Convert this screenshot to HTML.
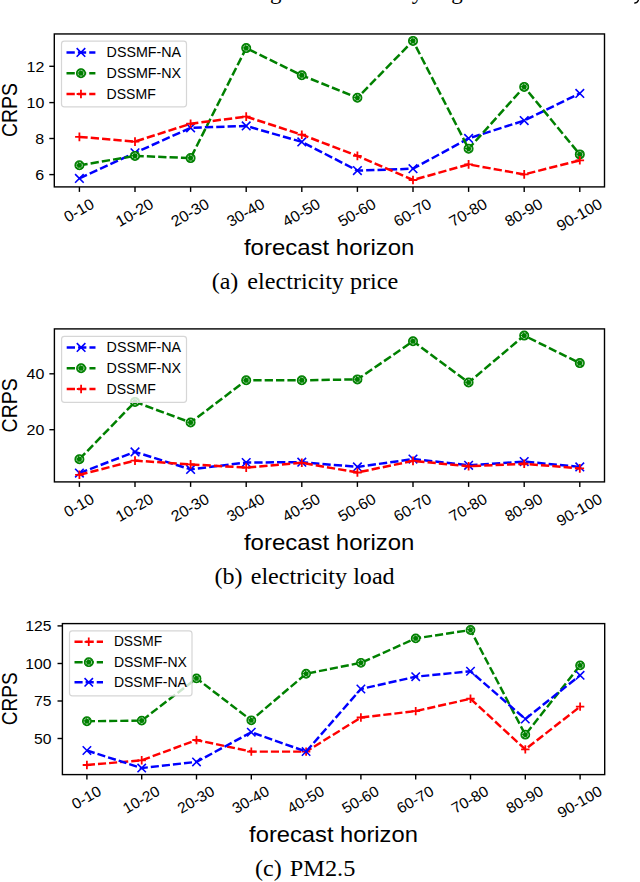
<!DOCTYPE html>
<html><head><meta charset="utf-8"><style>
html,body{margin:0;padding:0;background:#fff;width:640px;height:882px;overflow:hidden;}
svg{display:block;}
</style></head><body>
<svg width="640" height="882" viewBox="0 0 640 882">
<rect x="0" y="0" width="640" height="882" fill="#fff"/>
<polyline points="79.40,178.40 135.00,152.80 190.60,127.80 246.20,125.90 301.80,141.90 357.40,170.60 413.00,168.70 468.60,138.40 524.20,120.60 579.80,93.40" fill="none" stroke="#0000ff" stroke-width="2.50" stroke-dasharray="8.30 3.07" stroke-linecap="butt" stroke-linejoin="round"/>
<path d="M75.10,174.10L83.70,182.70M75.10,182.70L83.70,174.10" stroke="#0000ff" stroke-width="1.60" fill="none"/>
<path d="M130.70,148.50L139.30,157.10M130.70,157.10L139.30,148.50" stroke="#0000ff" stroke-width="1.60" fill="none"/>
<path d="M186.30,123.50L194.90,132.10M186.30,132.10L194.90,123.50" stroke="#0000ff" stroke-width="1.60" fill="none"/>
<path d="M241.90,121.60L250.50,130.20M241.90,130.20L250.50,121.60" stroke="#0000ff" stroke-width="1.60" fill="none"/>
<path d="M297.50,137.60L306.10,146.20M297.50,146.20L306.10,137.60" stroke="#0000ff" stroke-width="1.60" fill="none"/>
<path d="M353.10,166.30L361.70,174.90M353.10,174.90L361.70,166.30" stroke="#0000ff" stroke-width="1.60" fill="none"/>
<path d="M408.70,164.40L417.30,173.00M408.70,173.00L417.30,164.40" stroke="#0000ff" stroke-width="1.60" fill="none"/>
<path d="M464.30,134.10L472.90,142.70M464.30,142.70L472.90,134.10" stroke="#0000ff" stroke-width="1.60" fill="none"/>
<path d="M519.90,116.30L528.50,124.90M519.90,124.90L528.50,116.30" stroke="#0000ff" stroke-width="1.60" fill="none"/>
<path d="M575.50,89.10L584.10,97.70M575.50,97.70L584.10,89.10" stroke="#0000ff" stroke-width="1.60" fill="none"/>
<polyline points="79.40,165.30 135.00,155.90 190.60,158.10 246.20,48.10 301.80,75.30 357.40,97.80 413.00,40.90 468.60,148.75 524.20,86.90 579.80,154.40" fill="none" stroke="#008000" stroke-width="2.50" stroke-dasharray="8.30 3.07" stroke-linecap="butt" stroke-linejoin="round"/>
<circle cx="79.40" cy="165.30" r="4.40" fill="#008000" stroke="#008000" stroke-width="1.20"/>
<circle cx="79.40" cy="165.30" r="2.90" fill="none" stroke="#bfe0bf" stroke-width="1.00" stroke-dasharray="2.2 1.0"/>
<circle cx="135.00" cy="155.90" r="4.40" fill="#008000" stroke="#008000" stroke-width="1.20"/>
<circle cx="135.00" cy="155.90" r="2.90" fill="none" stroke="#bfe0bf" stroke-width="1.00" stroke-dasharray="2.2 1.0"/>
<circle cx="190.60" cy="158.10" r="4.40" fill="#008000" stroke="#008000" stroke-width="1.20"/>
<circle cx="190.60" cy="158.10" r="2.90" fill="none" stroke="#bfe0bf" stroke-width="1.00" stroke-dasharray="2.2 1.0"/>
<circle cx="246.20" cy="48.10" r="4.40" fill="#008000" stroke="#008000" stroke-width="1.20"/>
<circle cx="246.20" cy="48.10" r="2.90" fill="none" stroke="#bfe0bf" stroke-width="1.00" stroke-dasharray="2.2 1.0"/>
<circle cx="301.80" cy="75.30" r="4.40" fill="#008000" stroke="#008000" stroke-width="1.20"/>
<circle cx="301.80" cy="75.30" r="2.90" fill="none" stroke="#bfe0bf" stroke-width="1.00" stroke-dasharray="2.2 1.0"/>
<circle cx="357.40" cy="97.80" r="4.40" fill="#008000" stroke="#008000" stroke-width="1.20"/>
<circle cx="357.40" cy="97.80" r="2.90" fill="none" stroke="#bfe0bf" stroke-width="1.00" stroke-dasharray="2.2 1.0"/>
<circle cx="413.00" cy="40.90" r="4.40" fill="#008000" stroke="#008000" stroke-width="1.20"/>
<circle cx="413.00" cy="40.90" r="2.90" fill="none" stroke="#bfe0bf" stroke-width="1.00" stroke-dasharray="2.2 1.0"/>
<circle cx="468.60" cy="148.75" r="4.40" fill="#008000" stroke="#008000" stroke-width="1.20"/>
<circle cx="468.60" cy="148.75" r="2.90" fill="none" stroke="#bfe0bf" stroke-width="1.00" stroke-dasharray="2.2 1.0"/>
<circle cx="524.20" cy="86.90" r="4.40" fill="#008000" stroke="#008000" stroke-width="1.20"/>
<circle cx="524.20" cy="86.90" r="2.90" fill="none" stroke="#bfe0bf" stroke-width="1.00" stroke-dasharray="2.2 1.0"/>
<circle cx="579.80" cy="154.40" r="4.40" fill="#008000" stroke="#008000" stroke-width="1.20"/>
<circle cx="579.80" cy="154.40" r="2.90" fill="none" stroke="#bfe0bf" stroke-width="1.00" stroke-dasharray="2.2 1.0"/>
<polyline points="79.40,136.90 135.00,141.60 190.60,123.75 246.20,116.60 301.80,134.70 357.40,155.90 413.00,180.00 468.60,164.40 524.20,174.40 579.80,160.30" fill="none" stroke="#ff0000" stroke-width="2.50" stroke-dasharray="8.30 3.07" stroke-linecap="butt" stroke-linejoin="round"/>
<path d="M75.10,136.90L83.70,136.90M79.40,132.60L79.40,141.20" stroke="#ff0000" stroke-width="1.80" fill="none"/>
<path d="M130.70,141.60L139.30,141.60M135.00,137.30L135.00,145.90" stroke="#ff0000" stroke-width="1.80" fill="none"/>
<path d="M186.30,123.75L194.90,123.75M190.60,119.45L190.60,128.05" stroke="#ff0000" stroke-width="1.80" fill="none"/>
<path d="M241.90,116.60L250.50,116.60M246.20,112.30L246.20,120.90" stroke="#ff0000" stroke-width="1.80" fill="none"/>
<path d="M297.50,134.70L306.10,134.70M301.80,130.40L301.80,139.00" stroke="#ff0000" stroke-width="1.80" fill="none"/>
<path d="M353.10,155.90L361.70,155.90M357.40,151.60L357.40,160.20" stroke="#ff0000" stroke-width="1.80" fill="none"/>
<path d="M408.70,180.00L417.30,180.00M413.00,175.70L413.00,184.30" stroke="#ff0000" stroke-width="1.80" fill="none"/>
<path d="M464.30,164.40L472.90,164.40M468.60,160.10L468.60,168.70" stroke="#ff0000" stroke-width="1.80" fill="none"/>
<path d="M519.90,174.40L528.50,174.40M524.20,170.10L524.20,178.70" stroke="#ff0000" stroke-width="1.80" fill="none"/>
<path d="M575.50,160.30L584.10,160.30M579.80,156.00L579.80,164.60" stroke="#ff0000" stroke-width="1.80" fill="none"/>
<rect x="61.50" y="41.20" width="125.00" height="65.70" rx="2.8" ry="2.8" fill="rgba(255,255,255,0.8)" stroke="#d6d6d6" stroke-width="1.2"/>
<line x1="66.50" y1="52.40" x2="95.40" y2="52.40" stroke="#0000ff" stroke-width="2.50" stroke-dasharray="8.30 3.07"/>
<path d="M76.65,48.10L85.25,56.70M76.65,56.70L85.25,48.10" stroke="#0000ff" stroke-width="1.60" fill="none"/>
<text x="106.60" y="57.10" font-size="14.84" text-anchor="start" font-family='"Liberation Sans", sans-serif' textLength="74.52" lengthAdjust="spacingAndGlyphs" >DSSMF-NA</text>
<line x1="66.50" y1="73.20" x2="95.40" y2="73.20" stroke="#008000" stroke-width="2.50" stroke-dasharray="8.30 3.07"/>
<circle cx="80.95" cy="73.20" r="4.40" fill="#008000" stroke="#008000" stroke-width="1.20"/>
<circle cx="80.95" cy="73.20" r="2.90" fill="none" stroke="#bfe0bf" stroke-width="1.00" stroke-dasharray="2.2 1.0"/>
<text x="106.60" y="77.90" font-size="14.84" text-anchor="start" font-family='"Liberation Sans", sans-serif' textLength="74.54" lengthAdjust="spacingAndGlyphs" >DSSMF-NX</text>
<line x1="66.50" y1="94.00" x2="95.40" y2="94.00" stroke="#ff0000" stroke-width="2.50" stroke-dasharray="8.30 3.07"/>
<path d="M76.65,94.00L85.25,94.00M80.95,89.70L80.95,98.30" stroke="#ff0000" stroke-width="1.80" fill="none"/>
<text x="106.60" y="98.70" font-size="14.84" text-anchor="start" font-family='"Liberation Sans", sans-serif' textLength="49.17" lengthAdjust="spacingAndGlyphs" >DSSMF</text>
<rect x="54.30" y="33.95" width="550.20" height="152.95" fill="none" stroke="#000" stroke-width="1.4"/>
<line x1="79.40" y1="186.90" x2="79.40" y2="191.90" stroke="#000" stroke-width="1.4"/>
<line x1="135.00" y1="186.90" x2="135.00" y2="191.90" stroke="#000" stroke-width="1.4"/>
<line x1="190.60" y1="186.90" x2="190.60" y2="191.90" stroke="#000" stroke-width="1.4"/>
<line x1="246.20" y1="186.90" x2="246.20" y2="191.90" stroke="#000" stroke-width="1.4"/>
<line x1="301.80" y1="186.90" x2="301.80" y2="191.90" stroke="#000" stroke-width="1.4"/>
<line x1="357.40" y1="186.90" x2="357.40" y2="191.90" stroke="#000" stroke-width="1.4"/>
<line x1="413.00" y1="186.90" x2="413.00" y2="191.90" stroke="#000" stroke-width="1.4"/>
<line x1="468.60" y1="186.90" x2="468.60" y2="191.90" stroke="#000" stroke-width="1.4"/>
<line x1="524.20" y1="186.90" x2="524.20" y2="191.90" stroke="#000" stroke-width="1.4"/>
<line x1="579.80" y1="186.90" x2="579.80" y2="191.90" stroke="#000" stroke-width="1.4"/>
<line x1="49.30" y1="174.60" x2="54.30" y2="174.60" stroke="#000" stroke-width="1.4"/>
<text x="44.30" y="180.20" font-size="15.40" text-anchor="end" font-family='"Liberation Sans", sans-serif' textLength="8.91" lengthAdjust="spacingAndGlyphs" >6</text>
<line x1="49.30" y1="138.50" x2="54.30" y2="138.50" stroke="#000" stroke-width="1.4"/>
<text x="44.30" y="144.10" font-size="15.40" text-anchor="end" font-family='"Liberation Sans", sans-serif' textLength="8.91" lengthAdjust="spacingAndGlyphs" >8</text>
<line x1="49.30" y1="102.60" x2="54.30" y2="102.60" stroke="#000" stroke-width="1.4"/>
<text x="44.30" y="108.20" font-size="15.40" text-anchor="end" font-family='"Liberation Sans", sans-serif' textLength="17.81" lengthAdjust="spacingAndGlyphs" >10</text>
<line x1="49.30" y1="66.30" x2="54.30" y2="66.30" stroke="#000" stroke-width="1.4"/>
<text x="44.30" y="71.90" font-size="15.40" text-anchor="end" font-family='"Liberation Sans", sans-serif' textLength="17.81" lengthAdjust="spacingAndGlyphs" >12</text>
<g transform="translate(78.70,210.04) rotate(-30)">
<text x="0.00" y="5.61" font-size="15.40" text-anchor="middle" font-family='"Liberation Sans", sans-serif' textLength="31.77" lengthAdjust="spacingAndGlyphs" >0-10</text>
</g>
<g transform="translate(134.30,212.27) rotate(-30)">
<text x="0.00" y="5.61" font-size="15.40" text-anchor="middle" font-family='"Liberation Sans", sans-serif' textLength="40.68" lengthAdjust="spacingAndGlyphs" >10-20</text>
</g>
<g transform="translate(189.90,212.27) rotate(-30)">
<text x="0.00" y="5.61" font-size="15.40" text-anchor="middle" font-family='"Liberation Sans", sans-serif' textLength="40.68" lengthAdjust="spacingAndGlyphs" >20-30</text>
</g>
<g transform="translate(245.50,212.27) rotate(-30)">
<text x="0.00" y="5.61" font-size="15.40" text-anchor="middle" font-family='"Liberation Sans", sans-serif' textLength="40.68" lengthAdjust="spacingAndGlyphs" >30-40</text>
</g>
<g transform="translate(301.10,212.27) rotate(-30)">
<text x="0.00" y="5.61" font-size="15.40" text-anchor="middle" font-family='"Liberation Sans", sans-serif' textLength="40.68" lengthAdjust="spacingAndGlyphs" >40-50</text>
</g>
<g transform="translate(356.70,212.27) rotate(-30)">
<text x="0.00" y="5.61" font-size="15.40" text-anchor="middle" font-family='"Liberation Sans", sans-serif' textLength="40.68" lengthAdjust="spacingAndGlyphs" >50-60</text>
</g>
<g transform="translate(412.30,212.27) rotate(-30)">
<text x="0.00" y="5.61" font-size="15.40" text-anchor="middle" font-family='"Liberation Sans", sans-serif' textLength="40.68" lengthAdjust="spacingAndGlyphs" >60-70</text>
</g>
<g transform="translate(467.90,212.27) rotate(-30)">
<text x="0.00" y="5.61" font-size="15.40" text-anchor="middle" font-family='"Liberation Sans", sans-serif' textLength="40.68" lengthAdjust="spacingAndGlyphs" >70-80</text>
</g>
<g transform="translate(523.50,212.27) rotate(-30)">
<text x="0.00" y="5.61" font-size="15.40" text-anchor="middle" font-family='"Liberation Sans", sans-serif' textLength="40.68" lengthAdjust="spacingAndGlyphs" >80-90</text>
</g>
<g transform="translate(579.10,214.50) rotate(-30)">
<text x="0.00" y="5.61" font-size="15.40" text-anchor="middle" font-family='"Liberation Sans", sans-serif' textLength="49.59" lengthAdjust="spacingAndGlyphs" >90-100</text>
</g>
<text x="329.20" y="255.00" font-size="22.26" text-anchor="middle" font-family='"Liberation Sans", sans-serif' textLength="170.51" lengthAdjust="spacingAndGlyphs" >forecast horizon</text>
<g transform="translate(9.20,110.00) rotate(-90)">
<text x="0.00" y="8.27" font-size="22.68" text-anchor="middle" font-family='"Liberation Sans", sans-serif' textLength="54.05" lengthAdjust="spacingAndGlyphs" >CRPS</text>
</g>
<polyline points="79.40,473.10 135.00,451.90 190.60,469.40 246.20,462.50 301.80,462.20 357.40,466.90 413.00,459.10 468.60,465.30 524.20,461.60 579.80,466.90" fill="none" stroke="#0000ff" stroke-width="2.50" stroke-dasharray="8.30 3.07" stroke-linecap="butt" stroke-linejoin="round"/>
<path d="M75.10,468.80L83.70,477.40M75.10,477.40L83.70,468.80" stroke="#0000ff" stroke-width="1.60" fill="none"/>
<path d="M130.70,447.60L139.30,456.20M130.70,456.20L139.30,447.60" stroke="#0000ff" stroke-width="1.60" fill="none"/>
<path d="M186.30,465.10L194.90,473.70M186.30,473.70L194.90,465.10" stroke="#0000ff" stroke-width="1.60" fill="none"/>
<path d="M241.90,458.20L250.50,466.80M241.90,466.80L250.50,458.20" stroke="#0000ff" stroke-width="1.60" fill="none"/>
<path d="M297.50,457.90L306.10,466.50M297.50,466.50L306.10,457.90" stroke="#0000ff" stroke-width="1.60" fill="none"/>
<path d="M353.10,462.60L361.70,471.20M353.10,471.20L361.70,462.60" stroke="#0000ff" stroke-width="1.60" fill="none"/>
<path d="M408.70,454.80L417.30,463.40M408.70,463.40L417.30,454.80" stroke="#0000ff" stroke-width="1.60" fill="none"/>
<path d="M464.30,461.00L472.90,469.60M464.30,469.60L472.90,461.00" stroke="#0000ff" stroke-width="1.60" fill="none"/>
<path d="M519.90,457.30L528.50,465.90M519.90,465.90L528.50,457.30" stroke="#0000ff" stroke-width="1.60" fill="none"/>
<path d="M575.50,462.60L584.10,471.20M575.50,471.20L584.10,462.60" stroke="#0000ff" stroke-width="1.60" fill="none"/>
<polyline points="79.40,459.20 135.00,401.90 190.60,422.50 246.20,380.30 301.80,380.30 357.40,379.40 413.00,341.25 468.60,382.50 524.20,335.60 579.80,363.10" fill="none" stroke="#008000" stroke-width="2.50" stroke-dasharray="8.30 3.07" stroke-linecap="butt" stroke-linejoin="round"/>
<circle cx="79.40" cy="459.20" r="4.40" fill="#008000" stroke="#008000" stroke-width="1.20"/>
<circle cx="79.40" cy="459.20" r="2.90" fill="none" stroke="#bfe0bf" stroke-width="1.00" stroke-dasharray="2.2 1.0"/>
<circle cx="135.00" cy="401.90" r="4.40" fill="#008000" stroke="#008000" stroke-width="1.20"/>
<circle cx="135.00" cy="401.90" r="2.90" fill="none" stroke="#bfe0bf" stroke-width="1.00" stroke-dasharray="2.2 1.0"/>
<circle cx="190.60" cy="422.50" r="4.40" fill="#008000" stroke="#008000" stroke-width="1.20"/>
<circle cx="190.60" cy="422.50" r="2.90" fill="none" stroke="#bfe0bf" stroke-width="1.00" stroke-dasharray="2.2 1.0"/>
<circle cx="246.20" cy="380.30" r="4.40" fill="#008000" stroke="#008000" stroke-width="1.20"/>
<circle cx="246.20" cy="380.30" r="2.90" fill="none" stroke="#bfe0bf" stroke-width="1.00" stroke-dasharray="2.2 1.0"/>
<circle cx="301.80" cy="380.30" r="4.40" fill="#008000" stroke="#008000" stroke-width="1.20"/>
<circle cx="301.80" cy="380.30" r="2.90" fill="none" stroke="#bfe0bf" stroke-width="1.00" stroke-dasharray="2.2 1.0"/>
<circle cx="357.40" cy="379.40" r="4.40" fill="#008000" stroke="#008000" stroke-width="1.20"/>
<circle cx="357.40" cy="379.40" r="2.90" fill="none" stroke="#bfe0bf" stroke-width="1.00" stroke-dasharray="2.2 1.0"/>
<circle cx="413.00" cy="341.25" r="4.40" fill="#008000" stroke="#008000" stroke-width="1.20"/>
<circle cx="413.00" cy="341.25" r="2.90" fill="none" stroke="#bfe0bf" stroke-width="1.00" stroke-dasharray="2.2 1.0"/>
<circle cx="468.60" cy="382.50" r="4.40" fill="#008000" stroke="#008000" stroke-width="1.20"/>
<circle cx="468.60" cy="382.50" r="2.90" fill="none" stroke="#bfe0bf" stroke-width="1.00" stroke-dasharray="2.2 1.0"/>
<circle cx="524.20" cy="335.60" r="4.40" fill="#008000" stroke="#008000" stroke-width="1.20"/>
<circle cx="524.20" cy="335.60" r="2.90" fill="none" stroke="#bfe0bf" stroke-width="1.00" stroke-dasharray="2.2 1.0"/>
<circle cx="579.80" cy="363.10" r="4.40" fill="#008000" stroke="#008000" stroke-width="1.20"/>
<circle cx="579.80" cy="363.10" r="2.90" fill="none" stroke="#bfe0bf" stroke-width="1.00" stroke-dasharray="2.2 1.0"/>
<polyline points="79.40,474.80 135.00,460.60 190.60,464.40 246.20,467.60 301.80,462.80 357.40,472.50 413.00,460.90 468.60,466.25 524.20,463.75 579.80,468.40" fill="none" stroke="#ff0000" stroke-width="2.50" stroke-dasharray="8.30 3.07" stroke-linecap="butt" stroke-linejoin="round"/>
<path d="M75.10,474.80L83.70,474.80M79.40,470.50L79.40,479.10" stroke="#ff0000" stroke-width="1.80" fill="none"/>
<path d="M130.70,460.60L139.30,460.60M135.00,456.30L135.00,464.90" stroke="#ff0000" stroke-width="1.80" fill="none"/>
<path d="M186.30,464.40L194.90,464.40M190.60,460.10L190.60,468.70" stroke="#ff0000" stroke-width="1.80" fill="none"/>
<path d="M241.90,467.60L250.50,467.60M246.20,463.30L246.20,471.90" stroke="#ff0000" stroke-width="1.80" fill="none"/>
<path d="M297.50,462.80L306.10,462.80M301.80,458.50L301.80,467.10" stroke="#ff0000" stroke-width="1.80" fill="none"/>
<path d="M353.10,472.50L361.70,472.50M357.40,468.20L357.40,476.80" stroke="#ff0000" stroke-width="1.80" fill="none"/>
<path d="M408.70,460.90L417.30,460.90M413.00,456.60L413.00,465.20" stroke="#ff0000" stroke-width="1.80" fill="none"/>
<path d="M464.30,466.25L472.90,466.25M468.60,461.95L468.60,470.55" stroke="#ff0000" stroke-width="1.80" fill="none"/>
<path d="M519.90,463.75L528.50,463.75M524.20,459.45L524.20,468.05" stroke="#ff0000" stroke-width="1.80" fill="none"/>
<path d="M575.50,468.40L584.10,468.40M579.80,464.10L579.80,472.70" stroke="#ff0000" stroke-width="1.80" fill="none"/>
<rect x="61.60" y="336.30" width="124.90" height="66.00" rx="2.8" ry="2.8" fill="rgba(255,255,255,0.8)" stroke="#d6d6d6" stroke-width="1.2"/>
<line x1="66.70" y1="347.40" x2="95.50" y2="347.40" stroke="#0000ff" stroke-width="2.50" stroke-dasharray="8.30 3.07"/>
<path d="M76.80,343.10L85.40,351.70M76.80,351.70L85.40,343.10" stroke="#0000ff" stroke-width="1.60" fill="none"/>
<text x="106.60" y="352.10" font-size="14.84" text-anchor="start" font-family='"Liberation Sans", sans-serif' textLength="74.52" lengthAdjust="spacingAndGlyphs" >DSSMF-NA</text>
<line x1="66.70" y1="368.20" x2="95.50" y2="368.20" stroke="#008000" stroke-width="2.50" stroke-dasharray="8.30 3.07"/>
<circle cx="81.10" cy="368.20" r="4.40" fill="#008000" stroke="#008000" stroke-width="1.20"/>
<circle cx="81.10" cy="368.20" r="2.90" fill="none" stroke="#bfe0bf" stroke-width="1.00" stroke-dasharray="2.2 1.0"/>
<text x="106.60" y="372.90" font-size="14.84" text-anchor="start" font-family='"Liberation Sans", sans-serif' textLength="74.54" lengthAdjust="spacingAndGlyphs" >DSSMF-NX</text>
<line x1="66.70" y1="389.00" x2="95.50" y2="389.00" stroke="#ff0000" stroke-width="2.50" stroke-dasharray="8.30 3.07"/>
<path d="M76.80,389.00L85.40,389.00M81.10,384.70L81.10,393.30" stroke="#ff0000" stroke-width="1.80" fill="none"/>
<text x="106.60" y="393.70" font-size="14.84" text-anchor="start" font-family='"Liberation Sans", sans-serif' textLength="49.17" lengthAdjust="spacingAndGlyphs" >DSSMF</text>
<rect x="54.40" y="328.90" width="550.10" height="153.00" fill="none" stroke="#000" stroke-width="1.4"/>
<line x1="79.40" y1="481.90" x2="79.40" y2="486.90" stroke="#000" stroke-width="1.4"/>
<line x1="135.00" y1="481.90" x2="135.00" y2="486.90" stroke="#000" stroke-width="1.4"/>
<line x1="190.60" y1="481.90" x2="190.60" y2="486.90" stroke="#000" stroke-width="1.4"/>
<line x1="246.20" y1="481.90" x2="246.20" y2="486.90" stroke="#000" stroke-width="1.4"/>
<line x1="301.80" y1="481.90" x2="301.80" y2="486.90" stroke="#000" stroke-width="1.4"/>
<line x1="357.40" y1="481.90" x2="357.40" y2="486.90" stroke="#000" stroke-width="1.4"/>
<line x1="413.00" y1="481.90" x2="413.00" y2="486.90" stroke="#000" stroke-width="1.4"/>
<line x1="468.60" y1="481.90" x2="468.60" y2="486.90" stroke="#000" stroke-width="1.4"/>
<line x1="524.20" y1="481.90" x2="524.20" y2="486.90" stroke="#000" stroke-width="1.4"/>
<line x1="579.80" y1="481.90" x2="579.80" y2="486.90" stroke="#000" stroke-width="1.4"/>
<line x1="49.40" y1="429.70" x2="54.40" y2="429.70" stroke="#000" stroke-width="1.4"/>
<text x="44.40" y="435.30" font-size="15.40" text-anchor="end" font-family='"Liberation Sans", sans-serif' textLength="17.81" lengthAdjust="spacingAndGlyphs" >20</text>
<line x1="49.40" y1="373.80" x2="54.40" y2="373.80" stroke="#000" stroke-width="1.4"/>
<text x="44.40" y="379.40" font-size="15.40" text-anchor="end" font-family='"Liberation Sans", sans-serif' textLength="17.81" lengthAdjust="spacingAndGlyphs" >40</text>
<g transform="translate(78.70,505.04) rotate(-30)">
<text x="0.00" y="5.61" font-size="15.40" text-anchor="middle" font-family='"Liberation Sans", sans-serif' textLength="31.77" lengthAdjust="spacingAndGlyphs" >0-10</text>
</g>
<g transform="translate(134.30,507.27) rotate(-30)">
<text x="0.00" y="5.61" font-size="15.40" text-anchor="middle" font-family='"Liberation Sans", sans-serif' textLength="40.68" lengthAdjust="spacingAndGlyphs" >10-20</text>
</g>
<g transform="translate(189.90,507.27) rotate(-30)">
<text x="0.00" y="5.61" font-size="15.40" text-anchor="middle" font-family='"Liberation Sans", sans-serif' textLength="40.68" lengthAdjust="spacingAndGlyphs" >20-30</text>
</g>
<g transform="translate(245.50,507.27) rotate(-30)">
<text x="0.00" y="5.61" font-size="15.40" text-anchor="middle" font-family='"Liberation Sans", sans-serif' textLength="40.68" lengthAdjust="spacingAndGlyphs" >30-40</text>
</g>
<g transform="translate(301.10,507.27) rotate(-30)">
<text x="0.00" y="5.61" font-size="15.40" text-anchor="middle" font-family='"Liberation Sans", sans-serif' textLength="40.68" lengthAdjust="spacingAndGlyphs" >40-50</text>
</g>
<g transform="translate(356.70,507.27) rotate(-30)">
<text x="0.00" y="5.61" font-size="15.40" text-anchor="middle" font-family='"Liberation Sans", sans-serif' textLength="40.68" lengthAdjust="spacingAndGlyphs" >50-60</text>
</g>
<g transform="translate(412.30,507.27) rotate(-30)">
<text x="0.00" y="5.61" font-size="15.40" text-anchor="middle" font-family='"Liberation Sans", sans-serif' textLength="40.68" lengthAdjust="spacingAndGlyphs" >60-70</text>
</g>
<g transform="translate(467.90,507.27) rotate(-30)">
<text x="0.00" y="5.61" font-size="15.40" text-anchor="middle" font-family='"Liberation Sans", sans-serif' textLength="40.68" lengthAdjust="spacingAndGlyphs" >70-80</text>
</g>
<g transform="translate(523.50,507.27) rotate(-30)">
<text x="0.00" y="5.61" font-size="15.40" text-anchor="middle" font-family='"Liberation Sans", sans-serif' textLength="40.68" lengthAdjust="spacingAndGlyphs" >80-90</text>
</g>
<g transform="translate(579.10,509.50) rotate(-30)">
<text x="0.00" y="5.61" font-size="15.40" text-anchor="middle" font-family='"Liberation Sans", sans-serif' textLength="49.59" lengthAdjust="spacingAndGlyphs" >90-100</text>
</g>
<text x="329.20" y="550.00" font-size="22.26" text-anchor="middle" font-family='"Liberation Sans", sans-serif' textLength="170.51" lengthAdjust="spacingAndGlyphs" >forecast horizon</text>
<g transform="translate(9.20,405.40) rotate(-90)">
<text x="0.00" y="8.27" font-size="22.68" text-anchor="middle" font-family='"Liberation Sans", sans-serif' textLength="54.05" lengthAdjust="spacingAndGlyphs" >CRPS</text>
</g>
<polyline points="86.90,765.00 141.70,760.30 196.50,740.00 251.30,751.60 306.10,751.60 360.90,717.50 415.70,711.10 470.50,698.75 525.30,749.40 580.10,706.60" fill="none" stroke="#ff0000" stroke-width="2.44" stroke-dasharray="8.12 3.00" stroke-linecap="butt" stroke-linejoin="round"/>
<path d="M82.69,765.00L91.11,765.00M86.90,760.79L86.90,769.21" stroke="#ff0000" stroke-width="1.76" fill="none"/>
<path d="M137.49,760.30L145.91,760.30M141.70,756.09L141.70,764.51" stroke="#ff0000" stroke-width="1.76" fill="none"/>
<path d="M192.29,740.00L200.71,740.00M196.50,735.79L196.50,744.21" stroke="#ff0000" stroke-width="1.76" fill="none"/>
<path d="M247.09,751.60L255.51,751.60M251.30,747.39L251.30,755.81" stroke="#ff0000" stroke-width="1.76" fill="none"/>
<path d="M301.89,751.60L310.31,751.60M306.10,747.39L306.10,755.81" stroke="#ff0000" stroke-width="1.76" fill="none"/>
<path d="M356.69,717.50L365.11,717.50M360.90,713.29L360.90,721.71" stroke="#ff0000" stroke-width="1.76" fill="none"/>
<path d="M411.49,711.10L419.91,711.10M415.70,706.89L415.70,715.31" stroke="#ff0000" stroke-width="1.76" fill="none"/>
<path d="M466.29,698.75L474.71,698.75M470.50,694.54L470.50,702.96" stroke="#ff0000" stroke-width="1.76" fill="none"/>
<path d="M521.09,749.40L529.51,749.40M525.30,745.19L525.30,753.61" stroke="#ff0000" stroke-width="1.76" fill="none"/>
<path d="M575.89,706.60L584.31,706.60M580.10,702.39L580.10,710.81" stroke="#ff0000" stroke-width="1.76" fill="none"/>
<polyline points="86.90,721.25 141.70,720.60 196.50,678.40 251.30,720.30 306.10,673.75 360.90,662.80 415.70,638.40 470.50,630.00 525.30,734.70 580.10,665.40" fill="none" stroke="#008000" stroke-width="2.44" stroke-dasharray="8.12 3.00" stroke-linecap="butt" stroke-linejoin="round"/>
<circle cx="86.90" cy="721.25" r="4.30" fill="#008000" stroke="#008000" stroke-width="1.17"/>
<circle cx="86.90" cy="721.25" r="2.84" fill="none" stroke="#bfe0bf" stroke-width="0.98" stroke-dasharray="2.2 1.0"/>
<circle cx="141.70" cy="720.60" r="4.30" fill="#008000" stroke="#008000" stroke-width="1.17"/>
<circle cx="141.70" cy="720.60" r="2.84" fill="none" stroke="#bfe0bf" stroke-width="0.98" stroke-dasharray="2.2 1.0"/>
<circle cx="196.50" cy="678.40" r="4.30" fill="#008000" stroke="#008000" stroke-width="1.17"/>
<circle cx="196.50" cy="678.40" r="2.84" fill="none" stroke="#bfe0bf" stroke-width="0.98" stroke-dasharray="2.2 1.0"/>
<circle cx="251.30" cy="720.30" r="4.30" fill="#008000" stroke="#008000" stroke-width="1.17"/>
<circle cx="251.30" cy="720.30" r="2.84" fill="none" stroke="#bfe0bf" stroke-width="0.98" stroke-dasharray="2.2 1.0"/>
<circle cx="306.10" cy="673.75" r="4.30" fill="#008000" stroke="#008000" stroke-width="1.17"/>
<circle cx="306.10" cy="673.75" r="2.84" fill="none" stroke="#bfe0bf" stroke-width="0.98" stroke-dasharray="2.2 1.0"/>
<circle cx="360.90" cy="662.80" r="4.30" fill="#008000" stroke="#008000" stroke-width="1.17"/>
<circle cx="360.90" cy="662.80" r="2.84" fill="none" stroke="#bfe0bf" stroke-width="0.98" stroke-dasharray="2.2 1.0"/>
<circle cx="415.70" cy="638.40" r="4.30" fill="#008000" stroke="#008000" stroke-width="1.17"/>
<circle cx="415.70" cy="638.40" r="2.84" fill="none" stroke="#bfe0bf" stroke-width="0.98" stroke-dasharray="2.2 1.0"/>
<circle cx="470.50" cy="630.00" r="4.30" fill="#008000" stroke="#008000" stroke-width="1.17"/>
<circle cx="470.50" cy="630.00" r="2.84" fill="none" stroke="#bfe0bf" stroke-width="0.98" stroke-dasharray="2.2 1.0"/>
<circle cx="525.30" cy="734.70" r="4.30" fill="#008000" stroke="#008000" stroke-width="1.17"/>
<circle cx="525.30" cy="734.70" r="2.84" fill="none" stroke="#bfe0bf" stroke-width="0.98" stroke-dasharray="2.2 1.0"/>
<circle cx="580.10" cy="665.40" r="4.30" fill="#008000" stroke="#008000" stroke-width="1.17"/>
<circle cx="580.10" cy="665.40" r="2.84" fill="none" stroke="#bfe0bf" stroke-width="0.98" stroke-dasharray="2.2 1.0"/>
<polyline points="86.90,750.50 141.70,768.10 196.50,761.90 251.30,732.20 306.10,751.60 360.90,689.00 415.70,676.70 470.50,671.25 525.30,719.00 580.10,675.30" fill="none" stroke="#0000ff" stroke-width="2.44" stroke-dasharray="8.12 3.00" stroke-linecap="butt" stroke-linejoin="round"/>
<path d="M82.69,746.29L91.11,754.71M82.69,754.71L91.11,746.29" stroke="#0000ff" stroke-width="1.56" fill="none"/>
<path d="M137.49,763.89L145.91,772.31M137.49,772.31L145.91,763.89" stroke="#0000ff" stroke-width="1.56" fill="none"/>
<path d="M192.29,757.69L200.71,766.11M192.29,766.11L200.71,757.69" stroke="#0000ff" stroke-width="1.56" fill="none"/>
<path d="M247.09,727.99L255.51,736.41M247.09,736.41L255.51,727.99" stroke="#0000ff" stroke-width="1.56" fill="none"/>
<path d="M301.89,747.39L310.31,755.81M301.89,755.81L310.31,747.39" stroke="#0000ff" stroke-width="1.56" fill="none"/>
<path d="M356.69,684.79L365.11,693.21M356.69,693.21L365.11,684.79" stroke="#0000ff" stroke-width="1.56" fill="none"/>
<path d="M411.49,672.49L419.91,680.91M411.49,680.91L419.91,672.49" stroke="#0000ff" stroke-width="1.56" fill="none"/>
<path d="M466.29,667.04L474.71,675.46M466.29,675.46L474.71,667.04" stroke="#0000ff" stroke-width="1.56" fill="none"/>
<path d="M521.09,714.79L529.51,723.21M521.09,723.21L529.51,714.79" stroke="#0000ff" stroke-width="1.56" fill="none"/>
<path d="M575.89,671.09L584.31,679.51M575.89,679.51L584.31,671.09" stroke="#0000ff" stroke-width="1.56" fill="none"/>
<rect x="69.50" y="630.80" width="122.50" height="65.00" rx="2.8" ry="2.8" fill="rgba(255,255,255,0.8)" stroke="#d6d6d6" stroke-width="1.2"/>
<line x1="74.50" y1="641.80" x2="103.00" y2="641.80" stroke="#ff0000" stroke-width="2.44" stroke-dasharray="8.12 3.00"/>
<path d="M84.54,641.80L92.96,641.80M88.75,637.59L88.75,646.01" stroke="#ff0000" stroke-width="1.76" fill="none"/>
<text x="113.95" y="646.40" font-size="14.51" text-anchor="start" font-family='"Liberation Sans", sans-serif' textLength="48.09" lengthAdjust="spacingAndGlyphs" >DSSMF</text>
<line x1="74.50" y1="662.20" x2="103.00" y2="662.20" stroke="#008000" stroke-width="2.44" stroke-dasharray="8.12 3.00"/>
<circle cx="88.75" cy="662.20" r="4.30" fill="#008000" stroke="#008000" stroke-width="1.17"/>
<circle cx="88.75" cy="662.20" r="2.84" fill="none" stroke="#bfe0bf" stroke-width="0.98" stroke-dasharray="2.2 1.0"/>
<text x="113.95" y="666.80" font-size="14.51" text-anchor="start" font-family='"Liberation Sans", sans-serif' textLength="72.90" lengthAdjust="spacingAndGlyphs" >DSSMF-NX</text>
<line x1="74.50" y1="682.30" x2="103.00" y2="682.30" stroke="#0000ff" stroke-width="2.44" stroke-dasharray="8.12 3.00"/>
<path d="M84.54,678.09L92.96,686.51M84.54,686.51L92.96,678.09" stroke="#0000ff" stroke-width="1.56" fill="none"/>
<text x="113.95" y="686.90" font-size="14.51" text-anchor="start" font-family='"Liberation Sans", sans-serif' textLength="72.89" lengthAdjust="spacingAndGlyphs" >DSSMF-NA</text>
<rect x="62.40" y="623.60" width="542.30" height="151.00" fill="none" stroke="#000" stroke-width="1.4"/>
<line x1="86.90" y1="774.60" x2="86.90" y2="779.49" stroke="#000" stroke-width="1.4"/>
<line x1="141.70" y1="774.60" x2="141.70" y2="779.49" stroke="#000" stroke-width="1.4"/>
<line x1="196.50" y1="774.60" x2="196.50" y2="779.49" stroke="#000" stroke-width="1.4"/>
<line x1="251.30" y1="774.60" x2="251.30" y2="779.49" stroke="#000" stroke-width="1.4"/>
<line x1="306.10" y1="774.60" x2="306.10" y2="779.49" stroke="#000" stroke-width="1.4"/>
<line x1="360.90" y1="774.60" x2="360.90" y2="779.49" stroke="#000" stroke-width="1.4"/>
<line x1="415.70" y1="774.60" x2="415.70" y2="779.49" stroke="#000" stroke-width="1.4"/>
<line x1="470.50" y1="774.60" x2="470.50" y2="779.49" stroke="#000" stroke-width="1.4"/>
<line x1="525.30" y1="774.60" x2="525.30" y2="779.49" stroke="#000" stroke-width="1.4"/>
<line x1="580.10" y1="774.60" x2="580.10" y2="779.49" stroke="#000" stroke-width="1.4"/>
<line x1="57.51" y1="738.50" x2="62.40" y2="738.50" stroke="#000" stroke-width="1.4"/>
<text x="51.42" y="743.99" font-size="15.06" text-anchor="end" font-family='"Liberation Sans", sans-serif' textLength="17.42" lengthAdjust="spacingAndGlyphs" >50</text>
<line x1="57.51" y1="701.00" x2="62.40" y2="701.00" stroke="#000" stroke-width="1.4"/>
<text x="51.42" y="706.49" font-size="15.06" text-anchor="end" font-family='"Liberation Sans", sans-serif' textLength="17.42" lengthAdjust="spacingAndGlyphs" >75</text>
<line x1="57.51" y1="663.50" x2="62.40" y2="663.50" stroke="#000" stroke-width="1.4"/>
<text x="51.42" y="668.99" font-size="15.06" text-anchor="end" font-family='"Liberation Sans", sans-serif' textLength="26.13" lengthAdjust="spacingAndGlyphs" >100</text>
<line x1="57.51" y1="625.90" x2="62.40" y2="625.90" stroke="#000" stroke-width="1.4"/>
<text x="51.42" y="631.39" font-size="15.06" text-anchor="end" font-family='"Liberation Sans", sans-serif' textLength="26.13" lengthAdjust="spacingAndGlyphs" >125</text>
<g transform="translate(86.20,797.23) rotate(-30)">
<text x="0.00" y="5.49" font-size="15.06" text-anchor="middle" font-family='"Liberation Sans", sans-serif' textLength="31.07" lengthAdjust="spacingAndGlyphs" >0-10</text>
</g>
<g transform="translate(141.00,799.41) rotate(-30)">
<text x="0.00" y="5.49" font-size="15.06" text-anchor="middle" font-family='"Liberation Sans", sans-serif' textLength="39.79" lengthAdjust="spacingAndGlyphs" >10-20</text>
</g>
<g transform="translate(195.80,799.41) rotate(-30)">
<text x="0.00" y="5.49" font-size="15.06" text-anchor="middle" font-family='"Liberation Sans", sans-serif' textLength="39.79" lengthAdjust="spacingAndGlyphs" >20-30</text>
</g>
<g transform="translate(250.60,799.41) rotate(-30)">
<text x="0.00" y="5.49" font-size="15.06" text-anchor="middle" font-family='"Liberation Sans", sans-serif' textLength="39.79" lengthAdjust="spacingAndGlyphs" >30-40</text>
</g>
<g transform="translate(305.40,799.41) rotate(-30)">
<text x="0.00" y="5.49" font-size="15.06" text-anchor="middle" font-family='"Liberation Sans", sans-serif' textLength="39.79" lengthAdjust="spacingAndGlyphs" >40-50</text>
</g>
<g transform="translate(360.20,799.41) rotate(-30)">
<text x="0.00" y="5.49" font-size="15.06" text-anchor="middle" font-family='"Liberation Sans", sans-serif' textLength="39.79" lengthAdjust="spacingAndGlyphs" >50-60</text>
</g>
<g transform="translate(415.00,799.41) rotate(-30)">
<text x="0.00" y="5.49" font-size="15.06" text-anchor="middle" font-family='"Liberation Sans", sans-serif' textLength="39.79" lengthAdjust="spacingAndGlyphs" >60-70</text>
</g>
<g transform="translate(469.80,799.41) rotate(-30)">
<text x="0.00" y="5.49" font-size="15.06" text-anchor="middle" font-family='"Liberation Sans", sans-serif' textLength="39.79" lengthAdjust="spacingAndGlyphs" >70-80</text>
</g>
<g transform="translate(524.60,799.41) rotate(-30)">
<text x="0.00" y="5.49" font-size="15.06" text-anchor="middle" font-family='"Liberation Sans", sans-serif' textLength="39.79" lengthAdjust="spacingAndGlyphs" >80-90</text>
</g>
<g transform="translate(579.40,801.59) rotate(-30)">
<text x="0.00" y="5.49" font-size="15.06" text-anchor="middle" font-family='"Liberation Sans", sans-serif' textLength="48.50" lengthAdjust="spacingAndGlyphs" >90-100</text>
</g>
<text x="333.50" y="841.90" font-size="21.77" text-anchor="middle" font-family='"Liberation Sans", sans-serif' textLength="168.76" lengthAdjust="spacingAndGlyphs" >forecast horizon</text>
<g transform="translate(9.20,698.80) rotate(-90)">
<text x="0.00" y="8.09" font-size="22.18" text-anchor="middle" font-family='"Liberation Sans", sans-serif' textLength="52.86" lengthAdjust="spacingAndGlyphs" >CRPS</text>
</g>
<text x="211.70" y="288.60" font-size="24.00" text-anchor="start" font-family='"Liberation Serif", serif' >(a)</text>
<text x="247.30" y="288.60" font-size="24.00" text-anchor="start" font-family='"Liberation Serif", serif' textLength="151.00" lengthAdjust="spacingAndGlyphs" >electricity price</text>
<text x="214.60" y="583.60" font-size="24.00" text-anchor="start" font-family='"Liberation Serif", serif' >(b)</text>
<text x="250.70" y="583.60" font-size="24.00" text-anchor="start" font-family='"Liberation Serif", serif' textLength="144.00" lengthAdjust="spacingAndGlyphs" >electricity load</text>
<text x="255.10" y="875.60" font-size="24.00" text-anchor="start" font-family='"Liberation Serif", serif' >(c)</text>
<text x="289.80" y="875.60" font-size="24.00" text-anchor="start" font-family='"Liberation Serif", serif' textLength="65.50" lengthAdjust="spacingAndGlyphs" >PM2.5</text>
<text x="178.00" y="-0.70" font-size="23.00" text-anchor="start" font-family='"Liberation Serif", serif' >Proceedings of the Twenty-Eighth International Joint Conference on Artificial Intelligence (IJCAI-19)</text>
<path d="M638.6,-0.5 C638.2,1.6 637.0,2.9 634.2,3.1" fill="none" stroke="#000" stroke-width="1.3"/>
</svg>
</body></html>
